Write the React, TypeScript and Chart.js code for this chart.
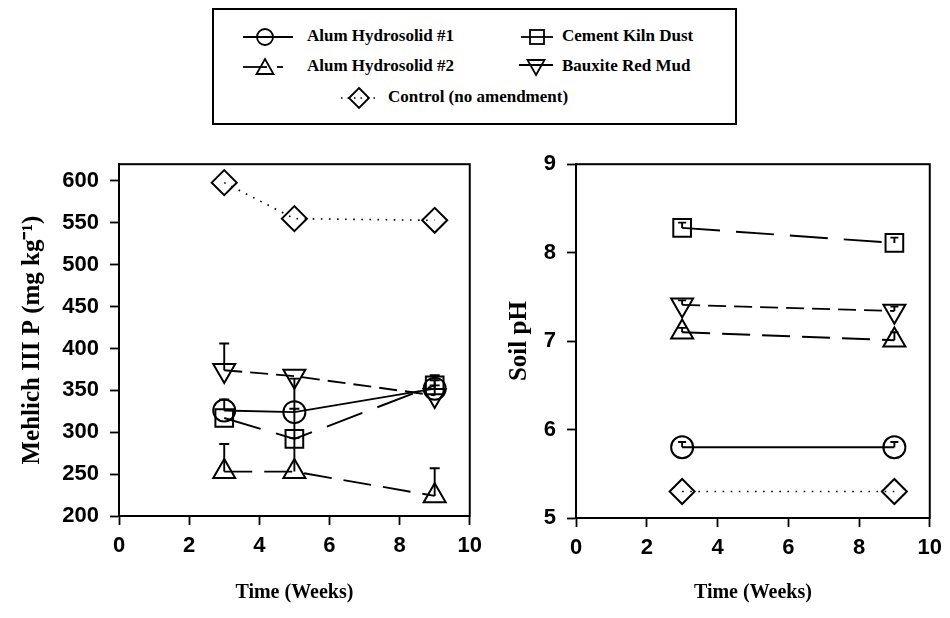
import React, { useEffect, useRef } from "react";
import { Chart, registerables } from "chart.js";
Chart.register(...registerables);

// ---------- DATA ----------
const weeksP = [3, 5, 9];
const alum1P = [326, 324, 352];
const cementP = [317, 292, 356];
const alum2P = [253, 253, 224];
const bauxiteP = [374, 367, 344];
const controlP = [598, 555, 553];
// upward error bars (mg/kg)
const alum1PErr = [13, 40, 10];
const cementPErr = [0, 36, 12];
const alum2PErr = [33, 40, 33];
const bauxitePErr = [32, 0, 12];

const weeksPH = [3, 9];
const alum1PH = [5.8, 5.8];
const cementPH = [8.28, 8.11];
const alum2PH = [7.1, 7.01];
const bauxitePH = [7.41, 7.34];
const controlPH = [5.3, 5.3];
const alum1PHErr = [0.06, 0.06];
const cementPHErr = [0.06, 0.06];
const alum2PHErr = [0.05, 0.09];
const bauxitePHErr = [0.05, 0.05];

const xTicks = [0, 2, 4, 6, 8, 10];
const pTicks = [200, 250, 300, 350, 400, 450, 500, 550, 600];
const pHTicks = [5, 6, 7, 8, 9];

const seriesNames = [
  "Alum Hydrosolid #1",
  "Cement Kiln Dust",
  "Alum Hydrosolid #2",
  "Bauxite Red Mud",
  "Control (no amendment)",
];

// ---------- STYLE ----------
const BLACK = "#000";
const TRANSPARENT = "rgba(0,0,0,0)";
const tickFont = { family: "'Liberation Sans', Arial, sans-serif", weight: "bold" as const, size: 22 };
const titleFont = { family: "'Liberation Serif', 'Times New Roman', serif", weight: "bold" as const, size: 20 };
const yTitleFont = { family: "'Liberation Serif', 'Times New Roman', serif", weight: "bold" as const, size: 25 };

const toPts = (xs: number[], ys: number[]) => xs.map((x, i) => ({ x, y: ys[i] }));

function mkDataset(label: string, xs: number[], ys: number[], errs: number[] | null, style: string, rot: number, radius: number, dash: number[], lw = 1.9) {
  return {
    label,
    data: toPts(xs, ys),
    errors: errs,
    borderColor: BLACK,
    backgroundColor: TRANSPARENT,
    borderWidth: lw,
    borderDash: dash,
    pointStyle: style,
    pointRotation: rot,
    pointRadius: radius,
    pointBorderColor: BLACK,
    pointBackgroundColor: TRANSPARENT,
    pointBorderWidth: 2,
    tension: 0,
    fill: false,
  };
}

const errorBarPlugin = {
  id: "errorBars",
  afterDatasetsDraw(chart: any, _args: any, opts: any) {
    const ctx = chart.ctx;
    const xs = chart.scales.x;
    const ys = chart.scales.y;
    const cap = (opts && opts.cap) || 5;
    chart.data.datasets.forEach((ds: any) => {
      const errs = ds.errors;
      if (!errs) return;
      ds.data.forEach((pt: any, i: number) => {
        const e = errs[i];
        if (!e) return;
        const px = xs.getPixelForValue(pt.x);
        const y0 = ys.getPixelForValue(pt.y);
        const y1 = ys.getPixelForValue(pt.y + e);
        ctx.save();
        ctx.strokeStyle = BLACK;
        ctx.lineWidth = 1.9;
        ctx.setLineDash([]);
        ctx.beginPath();
        ctx.moveTo(px, y0);
        ctx.lineTo(px, y1);
        ctx.moveTo(px - cap, y1);
        ctx.lineTo(px + cap, y1);
        ctx.stroke();
        ctx.restore();
      });
    });
  },
};

const framePlugin = {
  id: "frame",
  afterDraw(chart: any) {
    const { ctx, chartArea } = chart;
    ctx.save();
    ctx.strokeStyle = BLACK;
    ctx.lineWidth = 2;
    ctx.setLineDash([]);
    ctx.strokeRect(chartArea.left, chartArea.top, chartArea.right - chartArea.left, chartArea.bottom - chartArea.top);
    ctx.restore();
  },
};

function makeConfig(opts: {
  datasets: any[];
  yMin: number;
  yMax: number;
  yTicks: number[];
  yTitle: string;
  yWidth: number;
  xHeight: number;
  padding: any;
  yTitlePad: number;
  cap: number;
}) {
  return {
    type: "line",
    data: { datasets: opts.datasets },
    plugins: [errorBarPlugin, framePlugin],
    options: {
      responsive: false,
      animation: false,
      events: [],
      layout: { padding: opts.padding },
      plugins: {
        legend: { display: false },
        tooltip: { enabled: false },
        errorBars: { cap: opts.cap },
      },
      scales: {
        x: {
          type: "linear",
          min: 0,
          max: 10,
          afterBuildTicks: (s: any) => {
            s.ticks = xTicks.map((v) => ({ value: v }));
          },
          afterFit: (s: any) => {
            s.height = opts.xHeight;
          },
          grid: { drawOnChartArea: false, drawTicks: true, tickLength: 9, color: BLACK, tickWidth: 1.8 },
          border: { color: BLACK, width: 2 },
          ticks: { color: BLACK, font: tickFont, padding: 8, maxRotation: 0 },
          title: {
            display: true,
            text: "Time (Weeks)",
            color: BLACK,
            font: titleFont,
            padding: { top: 0, bottom: 13 },
          },
        },
        y: {
          type: "linear",
          min: opts.yMin,
          max: opts.yMax,
          afterBuildTicks: (s: any) => {
            s.ticks = opts.yTicks.map((v) => ({ value: v }));
          },
          afterFit: (s: any) => {
            s.width = opts.yWidth;
          },
          grid: { drawOnChartArea: false, drawTicks: true, tickLength: 9, color: BLACK, tickWidth: 1.8 },
          border: { color: BLACK, width: 2 },
          ticks: { color: BLACK, font: tickFont, padding: 11 },
          title: {
            display: true,
            text: opts.yTitle,
            color: BLACK,
            font: yTitleFont,
            padding: { top: opts.yTitlePad, bottom: 0 },
          },
        },
      },
    },
  };
}

const dashA1: number[] = [];
const dashCement = [38, 16];
const dashA2 = [28, 12];
const dashBaux = [18, 8];
const dashCtrl = [1.6, 6.5];

const leftConfig = makeConfig({
  datasets: [
    mkDataset(seriesNames[4], weeksP, controlP, null, "rectRot", 0, 12.5, dashCtrl, 1.6),
    mkDataset(seriesNames[0], weeksP, alum1P, alum1PErr, "circle", 0, 11, dashA1),
    mkDataset(seriesNames[1], weeksP, cementP, cementPErr, "rect", 0, 12.5, dashCement),
    mkDataset(seriesNames[2], weeksP, alum2P, alum2PErr, "triangle", 0, 12.7, dashA2),
    mkDataset(seriesNames[3], weeksP, bauxiteP, bauxitePErr, "triangle", 180, 12.7, dashBaux),
  ],
  yMin: 200,
  yMax: 620,
  yTicks: pTicks,
  yTitle: "Mehlich III P (mg kg\u207B\u00B9)",
  yWidth: 119,
  xHeight: 102,
  padding: { top: 16, right: 15, left: 0, bottom: 0 },
  yTitlePad: 18,
  cap: 5,
});

const rightConfig = makeConfig({
  datasets: [
    mkDataset(seriesNames[4], weeksPH, controlPH, null, "rectRot", 0, 12.5, dashCtrl, 1.6),
    mkDataset(seriesNames[0], weeksPH, alum1PH, alum1PHErr, "circle", 0, 11, dashA1),
    mkDataset(seriesNames[1], weeksPH, cementPH, cementPHErr, "rect", 0, 12.5, dashCement),
    mkDataset(seriesNames[2], weeksPH, alum2PH, alum2PHErr, "triangle", 0, 12.7, dashA2),
    mkDataset(seriesNames[3], weeksPH, bauxitePH, bauxitePHErr, "triangle", 180, 12.7, dashBaux),
  ],
  yMin: 5,
  yMax: 9,
  yTicks: pHTicks,
  yTitle: "Soil pH",
  yWidth: 86,
  xHeight: 100,
  padding: { top: 18, right: 17, left: 0, bottom: 0 },
  yTitlePad: 15,
  cap: 4,
});

function ChartCanvas({ config, left, top, width, height }: any) {
  const ref = useRef<HTMLCanvasElement | null>(null);
  useEffect(() => {
    if (!ref.current) return;
    const chart = new Chart(ref.current, config as any);
    return () => chart.destroy();
  }, [config]);
  return (
    <canvas
      ref={ref}
      width={width}
      height={height}
      style={{ position: "absolute", left, top, width, height }}
    />
  );
}

const legendText: React.CSSProperties = {
  position: "absolute",
  fontFamily: "'Liberation Serif', 'Times New Roman', serif",
  fontWeight: "bold",
  fontSize: 17,
  lineHeight: "20px",
  height: 20,
  whiteSpace: "nowrap",
  color: "#000",
};

function LegendSym({ left, cy, width, children }: any) {
  return (
    <svg
      width={width}
      height={26}
      style={{ position: "absolute", left, top: cy - 13 }}
      viewBox={`0 0 ${width} 26`}
    >
      <g stroke="#000" strokeWidth={1.8} fill="none">
        {children}
      </g>
    </svg>
  );
}

function Legend() {
  const r1 = 37;
  const r2 = 67;
  const r3 = 98;
  return (
    <div>
      <div
        style={{
          position: "absolute",
          left: 212,
          top: 8,
          width: 521,
          height: 113,
          border: "2px solid #000",
        }}
      />
      {/* row 1 */}
      <LegendSym left={241} cy={r1} width={54}>
        <line x1={2} y1={13} x2={52} y2={13} />
        <circle cx={24} cy={13} r={8} />
      </LegendSym>
      <div style={{ ...legendText, left: 307, top: r1 - 11 }}>{seriesNames[0]}</div>
      <LegendSym left={519} cy={r1} width={36}>
        <line x1={2} y1={13} x2={34} y2={13} />
        <rect x={11} y={6} width={14} height={14} />
      </LegendSym>
      <div style={{ ...legendText, left: 562, top: r1 - 11 }}>{seriesNames[1]}</div>
      {/* row 2 */}
      <LegendSym left={241} cy={r2} width={46}>
        <line x1={2} y1={13} x2={26} y2={13} />
        <line x1={36} y1={13} x2={42} y2={13} />
        <polygon points="24,5 32.5,20 15.5,20" />
      </LegendSym>
      <div style={{ ...legendText, left: 307, top: r2 - 11 }}>{seriesNames[2]}</div>
      <LegendSym left={517} cy={r2} width={38}>
        <line x1={2} y1={11} x2={36} y2={11} />
        <polygon points="19,21 27.5,6 10.5,6" />
      </LegendSym>
      <div style={{ ...legendText, left: 562, top: r2 - 11 }}>{seriesNames[3]}</div>
      {/* row 3 */}
      <LegendSym left={339} cy={r3} width={40}>
        <line x1={2} y1={13} x2={38} y2={13} strokeDasharray="1.5 5" strokeWidth={1.6} />
        <polygon points="20,3 30,13 20,23 10,13" />
      </LegendSym>
      <div style={{ ...legendText, left: 388, top: r3 - 11 }}>{seriesNames[4]}</div>
    </div>
  );
}

export default function App() {
  return (
    <div
      style={{
        position: "absolute",
        left: 0,
        top: 0,
        width: 950,
        height: 618,
        background: "#fff",
        overflow: "hidden",
      }}
    >
      <Legend />
      <ChartCanvas config={leftConfig} left={0} top={140} width={490} height={478} />
      <ChartCanvas config={rightConfig} left={490} top={140} width={460} height={478} />
    </div>
  );
}
